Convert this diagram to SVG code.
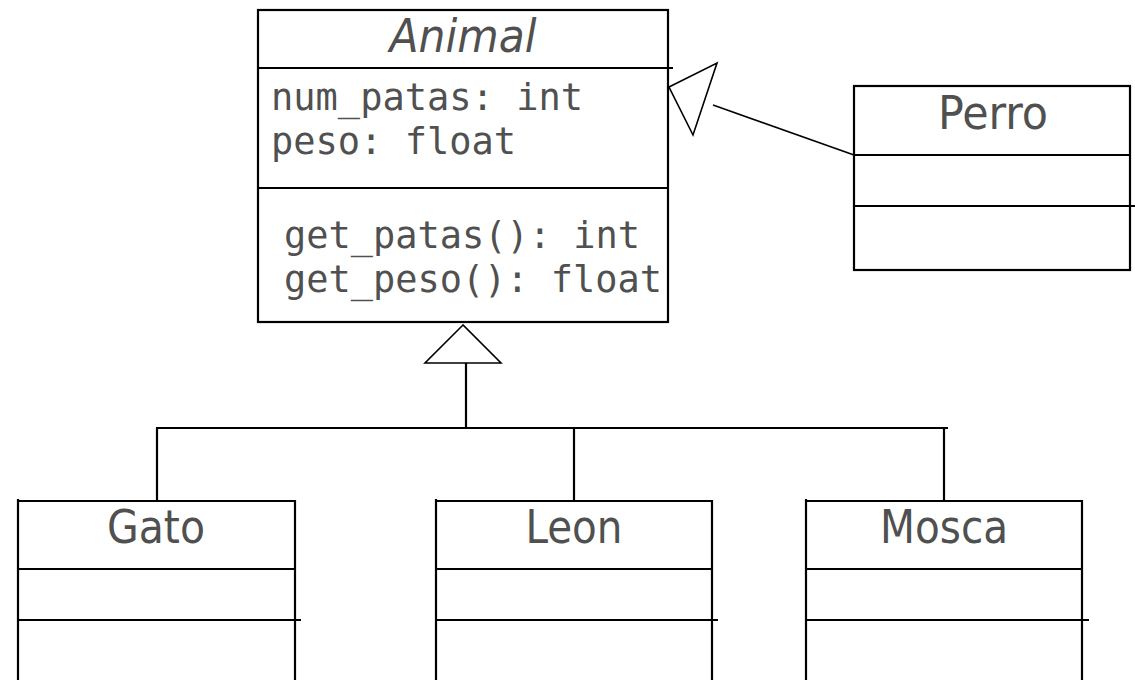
<svg xmlns="http://www.w3.org/2000/svg" width="1135" height="680" viewBox="0 0 1135 680">
<style>
.b{fill:none;stroke:#000;stroke-width:2.2}
.c{fill:none;stroke:#000;stroke-width:1.6}
.t{font-family:"DejaVu Sans Condensed","DejaVu Sans",sans-serif;font-stretch:condensed;font-size:46px;fill:#505050;text-anchor:middle}
.m{font-family:"DejaVu Sans Mono",monospace;font-size:38px;fill:#505050}
</style>
<rect width="1135" height="680" fill="#fff"/>
<g id="connectors">
<polygon class="c" fill="#fff" points="669,87 717,63 693,135"/>
<line class="c" x1="713" y1="105" x2="854" y2="155"/>
<polygon class="c" points="463,325 425,363 501,363"/>
<line class="b" x1="466" y1="363" x2="466" y2="428"/>
<line class="b" x1="156" y1="428" x2="948" y2="428"/>
<line class="b" x1="157" y1="428" x2="157" y2="500"/>
<line class="b" x1="574" y1="428" x2="574" y2="500"/>
<line class="b" x1="944" y1="428" x2="944" y2="500"/>
</g>
<g id="animal">
<rect class="b" x="258" y="10" width="410" height="312"/>
<line class="b" x1="258" y1="68" x2="673" y2="68"/>
<line class="b" x1="258" y1="188" x2="668" y2="188"/>
<text class="t" x="463" y="52" font-style="italic" textLength="147" lengthAdjust="spacingAndGlyphs">Animal</text>
<text class="m" x="271" y="110" textLength="312" lengthAdjust="spacingAndGlyphs">num_patas: int</text>
<text class="m" x="271" y="154" textLength="245" lengthAdjust="spacingAndGlyphs">peso: float</text>
<text class="m" x="284" y="248" textLength="356" lengthAdjust="spacingAndGlyphs">get_patas(): int</text>
<text class="m" x="284" y="292" textLength="378" lengthAdjust="spacingAndGlyphs">get_peso(): float</text>
</g>
<g id="perro">
<rect class="b" x="854" y="86" width="276" height="184"/>
<line class="b" x1="854" y1="155" x2="1130" y2="155"/>
<line class="b" x1="854" y1="206" x2="1135" y2="206"/>
<text class="t" x="993" y="129" textLength="110" lengthAdjust="spacingAndGlyphs">Perro</text>
</g>
<g id="gato">
<path class="b" d="M18,499V680M18,501H295V680"/>
<line class="b" x1="18" y1="569" x2="295" y2="569"/>
<line class="b" x1="18" y1="620" x2="301" y2="620"/>
<text class="t" x="156" y="543" textLength="98" lengthAdjust="spacingAndGlyphs">Gato</text>
</g>
<g id="leon">
<path class="b" d="M436,499V680M436,501H712V680"/>
<line class="b" x1="436" y1="569" x2="712" y2="569"/>
<line class="b" x1="436" y1="620" x2="718" y2="620"/>
<text class="t" x="574" y="543" textLength="97" lengthAdjust="spacingAndGlyphs">Leon</text>
</g>
<g id="mosca">
<path class="b" d="M806,499V680M806,501H1082V680"/>
<line class="b" x1="806" y1="569" x2="1083" y2="569"/>
<line class="b" x1="806" y1="620" x2="1089" y2="620"/>
<text class="t" x="944" y="543" textLength="128" lengthAdjust="spacingAndGlyphs">Mosca</text>
</g>
</svg>
